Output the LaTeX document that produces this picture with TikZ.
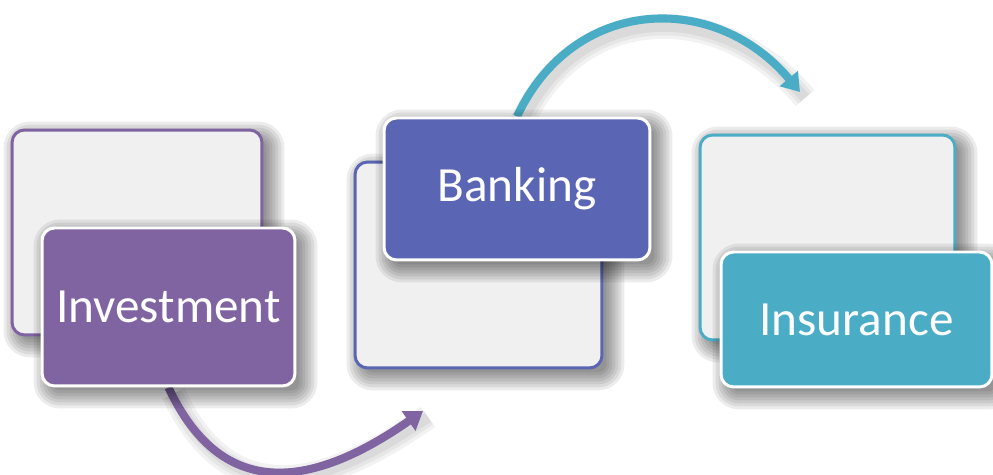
\documentclass[tikz,border=0pt]{standalone}
\usepackage{fontspec}
\setmainfont{Carlito}
\usetikzlibrary{backgrounds,calc,arrows.meta}
\definecolor{investcol}{HTML}{8064A2}
\definecolor{bankcol}{HTML}{5A66B3}
\definecolor{insurcol}{HTML}{4BACC6}
\definecolor{cardgray}{HTML}{F0F0F0}
\pgfdeclarelayer{backshade}
\pgfdeclarelayer{backcards}
\pgfdeclarelayer{frontshade}
\pgfsetlayers{background,backshade,backcards,frontshade,main}

\begin{document}
\begin{tikzpicture}[
		x=0.02cm,y=0.02cm,
		card/.style={rounded corners=2.5mm,line width=1.7pt,inner sep=0pt},
		backcard/.style={card,draw=#1,fill=cardgray},
		frontcard/.style={card,draw=white,fill=#1,text=white,
			node font=\fontsize{28}{32}\selectfont},
		shade/.style={fill=black,fill opacity=.075},
		flow/.style={line width=4.6pt,-{Triangle[width=13pt,length=10pt]}},
		flowshade/.style={draw=black,draw opacity=.05,line width=#1,
			transform canvas={shift={(1mm,-1.2mm)}}}
	]
	\useasboundingbox (0,0) rectangle (993,475);
	% back cards, the labelled cards lie on top of them
	\begin{pgfonlayer}{backcards}
		\node[backcard=investcol,minimum width=5cm,minimum height=4.1cm]  (invest_back) at (137,242.5) {};
		\node[backcard=bankcol,minimum width=4.94cm,minimum height=4.12cm] (bank_back) at (478.5,210) {};
		\node[backcard=insurcol,minimum width=5.1cm,minimum height=4.1cm]  (insur_back) at (827.5,237.5) {};
	\end{pgfonlayer}
	\node[frontcard=investcol,minimum width=5.06cm,minimum height=3.16cm] (Investment) at (168.5,168) {Investment};
	\node[frontcard=bankcol,minimum width=5.32cm,minimum height=2.84cm]   (Banking) at (517,286) {Banking};
	\node[frontcard=insurcol,minimum width=5.42cm,minimum height=2.7cm]   (Insurance) at (856.5,155.5) {Insurance};
	% soft shadows: stacked faint rounded rectangles, growing outwards
	\foreach \card/\lay in {invest_back/backshade,bank_back/backshade,insur_back/backshade,
		Investment/frontshade,Banking/frontshade,Insurance/frontshade}{
		\begin{pgfonlayer}{\lay}
			\foreach \g [evaluate=\g as \r using {0.57*(8.5+\g)}] in {0,3,...,18}
				\path[shade,rounded corners=\r pt] ($ (\card.south west) + (11-\g,-3-\g) $) rectangle ($ (\card.north east) + (3+\g,-11+\g) $);
		\end{pgfonlayer}
	}
	% arrow ends
	\coordinate (bank_in)  at (423,64);
	\coordinate (insur_in) at (800,383);
	\begin{scope}[on background layer]
		\foreach \w in {6pt,10pt,14pt}{
			\path[flowshade=\w] (Investment.south) to[out=-65,in=215,looseness=1.3] (bank_in);
			\path[flowshade=\w] (Banking.north) to[out=65,in=130,looseness=1.2] (insur_in);
		}
		\draw[flow,color=investcol] (Investment.south) to[out=-65,in=215,looseness=1.3] (bank_in);
		\draw[flow,color=insurcol]  (Banking.north) to[out=65,in=130,looseness=1.2] (insur_in);
	\end{scope}
\end{tikzpicture}
\end{document}
